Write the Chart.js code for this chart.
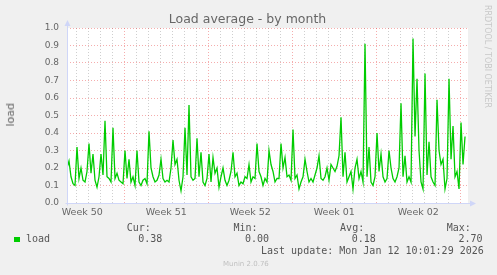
<!DOCTYPE html>
<html>
<head>
<meta charset="utf-8">
<script src="https://cdn.jsdelivr.net/npm/chart.js@4/dist/chart.umd.min.js"></script>
<style>
  body { margin: 0; background: #f0f0f0; }
  #wrap { position: relative; width: 497px; height: 275px; font-family: "DejaVu Sans", sans-serif; color: #666; }
  #wrap canvas { position: absolute; left: 0; top: 0; }
  #wrap .txt { position: absolute; white-space: pre; }
  .mono { font-family: "DejaVu Sans Mono", monospace; font-size: 10px; line-height: 12px; color: #555; }
</style>
</head>
<body>
<div id="wrap">
  <canvas id="myChart" width="497" height="275"></canvas>
  <div class="txt" style="left:0;width:495px;top:11px;text-align:center;font-size:12.5px;line-height:16px;">Load average - by month</div>
  <div class="txt" style="left:4px;top:103px;font-size:11px;line-height:13px;writing-mode:vertical-rl;transform:rotate(180deg);">load</div>
  <div class="txt" style="left:482.5px;top:5px;font-size:8px;line-height:9px;color:#c8c8c8;writing-mode:vertical-rl;">RRDTOOL / TOBI OETIKER</div>
  <div id="legend"></div>
  <div class="txt" style="left:223px;top:260px;font-size:7px;line-height:9px;color:#c0c0c0;">Munin 2.0.76</div>
</div>
<script>
// week labels sit in the middle of each week, days counted from Mon 15 Dec 2025
const weekLabels = ["Week 50", "Week 51", "Week 52", "Week 01", "Week 02"];
const weekLabelDays = [-3.5, 3.5, 10.5, 17.5, 24.5];

// one sample every 4 hours, first one about 4.8 days before week 51
const firstSampleDay = -4.775;
const sampleStepDays = 4 / 24;
const loadValues = [
  0.20, 0.24, 0.15, 0.11, 0.10, 0.32, 0.14, 0.20, 0.13, 0.12,
  0.18, 0.34, 0.17, 0.28, 0.13, 0.09, 0.15, 0.28, 0.16, 0.47,
  0.15, 0.14, 0.12, 0.43, 0.14, 0.17, 0.13, 0.12, 0.11, 0.30,
  0.14, 0.25, 0.12, 0.15, 0.10, 0.30, 0.12, 0.10, 0.13, 0.14,
  0.11, 0.41, 0.20, 0.15, 0.12, 0.13, 0.16, 0.25, 0.14, 0.12,
  0.13, 0.12, 0.20, 0.36, 0.22, 0.25, 0.13, 0.07, 0.15, 0.43,
  0.16, 0.56, 0.15, 0.13, 0.14, 0.37, 0.15, 0.29, 0.12, 0.10,
  0.14, 0.28, 0.12, 0.26, 0.17, 0.20, 0.09, 0.15, 0.20, 0.13,
  0.10, 0.13, 0.18, 0.29, 0.15, 0.17, 0.10, 0.12, 0.11, 0.15,
  0.14, 0.22, 0.12, 0.15, 0.14, 0.34, 0.18, 0.15, 0.10, 0.14,
  0.12, 0.30, 0.22, 0.18, 0.12, 0.14, 0.14, 0.34, 0.20, 0.26,
  0.15, 0.16, 0.13, 0.42, 0.14, 0.16, 0.08, 0.12, 0.15, 0.25,
  0.18, 0.12, 0.14, 0.12, 0.16, 0.20, 0.27, 0.14, 0.13, 0.15,
  0.20, 0.13, 0.22, 0.20, 0.18, 0.21, 0.27, 0.49, 0.15, 0.29,
  0.12, 0.15, 0.18, 0.08, 0.20, 0.25, 0.14, 0.18, 0.12, 0.91,
  0.15, 0.32, 0.12, 0.10, 0.15, 0.40, 0.18, 0.28, 0.15, 0.12,
  0.14, 0.30, 0.20, 0.14, 0.12, 0.15, 0.20, 0.57, 0.15, 0.27,
  0.12, 0.15, 0.12, 0.94, 0.38, 0.71, 0.30, 0.12, 0.08, 0.74,
  0.16, 0.35, 0.15, 0.12, 0.10, 0.59, 0.30, 0.22, 0.25, 0.08,
  0.14, 0.71, 0.25, 0.44, 0.15, 0.18, 0.08, 0.46, 0.22, 0.38
];

const statLabels = ["Cur:", "Min:", "Avg:", "Max:"];
const loadStats = ["0.38", "0.00", "0.18", "2.70"];
const lastUpdate = "Last update: Mon Jan 12 10:01:29 2026";

const majorGrid = "rgba(232,60,60,0.42)";
const minorGrid = "rgba(140,140,140,0.42)";
const lineColor = "#00cc00";
const axisColor = "#cfd6f8";

// legend block under the graph
let legend = document.getElementById('legend');
let html = '';
statLabels.forEach((s, i) => {
  html += `<div class="txt mono" style="left:${126.7 + i * 106.7}px;top:222px;">${s}</div>`;
  html += `<div class="txt mono" style="left:${138.3 + i * 106.7}px;top:233px;">${loadStats[i]}</div>`;
});
html += `<div class="txt" style="left:14px;top:237px;width:6px;height:5px;background:${lineColor};"></div>`;
html += `<div class="txt mono" style="left:26px;top:233px;">load</div>`;
html += `<div class="txt mono" style="left:261px;top:244.5px;">${lastUpdate}</div>`;
legend.innerHTML = html;

const munin = {
  id: 'munin',
  beforeDraw(chart) {
    const { ctx, chartArea: a } = chart;
    ctx.save();
    ctx.fillStyle = '#ffffff';
    ctx.fillRect(a.left, a.top, a.right - a.left, a.bottom - a.top);
    ctx.restore();
  },
  afterDraw(chart) {
    const { ctx, chartArea: a } = chart;
    const x0 = Math.round(a.left) + 0.5;
    const y0 = Math.round(a.bottom) + 0.5;
    ctx.save();
    ctx.strokeStyle = axisColor;
    ctx.fillStyle = axisColor;
    ctx.lineWidth = 1;
    ctx.beginPath();
    ctx.moveTo(x0, y0 + 2);
    ctx.lineTo(x0, a.top - 3);
    ctx.moveTo(x0 - 2, y0);
    ctx.lineTo(a.right + 3, y0);
    ctx.stroke();
    // arrows
    ctx.beginPath();
    ctx.moveTo(x0, a.top - 8);
    ctx.lineTo(x0 - 3, a.top - 2);
    ctx.lineTo(x0 + 3, a.top - 2);
    ctx.closePath();
    ctx.fill();
    ctx.beginPath();
    ctx.moveTo(a.right + 8, y0);
    ctx.lineTo(a.right + 2, y0 - 3);
    ctx.lineTo(a.right + 2, y0 + 3);
    ctx.closePath();
    ctx.fill();
    ctx.restore();
  }
};

new Chart("myChart", {
  type: "line",
  data: {
    datasets: [{
      data: loadValues.map((v, i) => ({ x: firstSampleDay + i * sampleStepDays, y: v })),
      borderColor: lineColor,
      borderWidth: 1.3,
      pointRadius: 0,
      tension: 0,
      fill: false
    }]
  },
  options: {
    responsive: false,
    animation: false,
    devicePixelRatio: 1,
    layout: { padding: { left: 0, right: 29, top: 28, bottom: 52 } },
    plugins: { legend: { display: false }, tooltip: { enabled: false } },
    scales: {
      x: {
        type: 'linear',
        min: -4.775,
        max: 28.64,
        afterFit(scale) { scale.height = 20; },
        afterBuildTicks(scale) {
          const t = [];
          for (let d = -4; d <= 28; d++) t.push({ value: d });
          weekLabelDays.forEach(v => t.push({ value: v }));
          t.sort((a, b) => a.value - b.value);
          scale.ticks = t;
        },
        grid: {
          drawTicks: false,
          color: (c) => {
            const v = c.tick.value;
            if (v % 1 !== 0) return 'rgba(0,0,0,0)';
            return v % 7 === 0 ? majorGrid : minorGrid;
          }
        },
        border: { display: false, dash: [1, 2] },
        ticks: {
          autoSkip: false,
          maxRotation: 0,
          padding: 4,
          color: '#666',
          font: { family: 'DejaVu Sans', size: 9.5 },
          callback: (value) => {
            const i = weekLabelDays.indexOf(value);
            return i >= 0 ? weekLabels[i] : '';
          }
        }
      },
      y: {
        min: 0,
        max: 1,
        afterFit(scale) { scale.width = 67; },
        afterBuildTicks(scale) {
          const t = [];
          for (let k = 0; k <= 20; k++) t.push({ value: k / 20 });
          scale.ticks = t;
        },
        grid: {
          drawTicks: false,
          color: (c) => Math.round(c.tick.value * 100) % 10 === 0 ? majorGrid : minorGrid
        },
        border: { display: false, dash: [1, 2] },
        ticks: {
          padding: 8,
          color: '#666',
          font: { family: 'DejaVu Sans', size: 9 },
          callback: (value) => Math.round(value * 100) % 10 === 0 ? value.toFixed(1) : ''
        }
      }
    }
  },
  plugins: [munin]
});
</script>
</body>
</html>
